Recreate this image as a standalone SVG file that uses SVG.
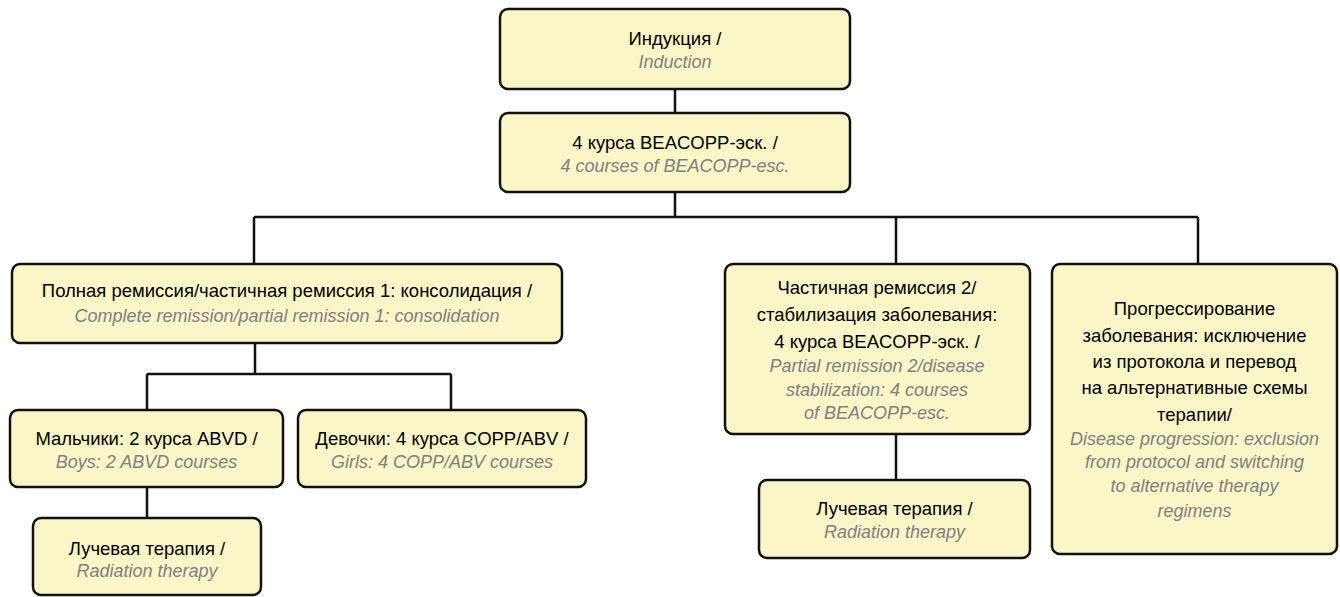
<svg xmlns="http://www.w3.org/2000/svg" width="1340" height="597" viewBox="0 0 1340 597">
<style>
.box{fill:#faf6c7;stroke:#111;stroke-width:2.5}
.ru{font-family:"Liberation Sans",Arial,sans-serif;font-size:18.5px;fill:#000;text-anchor:middle}
.en{font-family:"Liberation Sans",Arial,sans-serif;font-size:18px;font-style:italic;fill:#808080;text-anchor:middle}
.ln{stroke:#111;stroke-width:2.5;fill:none}
</style>
<rect width="1340" height="597" fill="#fff"/>
<g id="connectors">
<path class="ln" d="M675 89V113M675 192V217M254 217H1198M254 217V264M896 217V264M1198 217V264M255 343V374M147 374H451M147 374V410M451 374V410M147 487V518M896 434V480"/>
</g>
<g id="induction">
<rect class="box" x="500" y="9" width="350" height="80" rx="8"/>
<text class="ru" x="675" y="45">Индукция /</text>
<text class="en" x="675" y="68">Induction</text>
</g>
<g id="beacopp">
<rect class="box" x="500" y="113" width="350" height="79" rx="8"/>
<text class="ru" x="675" y="149">4 курса BEACOPP-эск. /</text>
<text class="en" x="675" y="172">4 courses of BEACOPP-esc.</text>
</g>
<g id="consolidation">
<rect class="box" x="12" y="264" width="550" height="79" rx="8"/>
<text class="ru" x="287" y="297">Полная ремиссия/частичная ремиссия 1: консолидация /</text>
<text class="en" x="287" y="322">Complete remission/partial remission 1: consolidation</text>
</g>
<g id="boys">
<rect class="box" x="10" y="410" width="273" height="77" rx="8"/>
<text class="ru" x="146.5" y="445">Мальчики: 2 курса ABVD /</text>
<text class="en" x="146.5" y="468">Boys: 2 ABVD courses</text>
</g>
<g id="girls">
<rect class="box" x="298" y="410" width="288" height="77" rx="8"/>
<text class="ru" x="442" y="445">Девочки: 4 курса COPP/ABV /</text>
<text class="en" x="442" y="468">Girls: 4 COPP/ABV courses</text>
</g>
<g id="radiation1">
<rect class="box" x="33" y="518" width="228" height="77" rx="8"/>
<text class="ru" x="147" y="555">Лучевая терапия /</text>
<text class="en" x="147" y="577">Radiation therapy</text>
</g>
<g id="partial2">
<rect class="box" x="725" y="264" width="305" height="170" rx="8"/>
<text class="ru" x="877" y="294">Частичная ремиссия 2/</text>
<text class="ru" x="877" y="321">стабилизация заболевания:</text>
<text class="ru" x="877" y="348">4 курса BEACOPP-эск. /</text>
<text class="en" x="877" y="372">Partial remission 2/disease</text>
<text class="en" x="877" y="396">stabilization: 4 courses</text>
<text class="en" x="877" y="419">of BEACOPP-esc.</text>
</g>
<g id="radiation2">
<rect class="box" x="759" y="480" width="271" height="78" rx="8"/>
<text class="ru" x="894.5" y="515">Лучевая терапия /</text>
<text class="en" x="894.5" y="538">Radiation therapy</text>
</g>
<g id="progression">
<rect class="box" x="1052" y="264" width="285" height="290" rx="8"/>
<text class="ru" x="1194.5" y="315">Прогрессирование</text>
<text class="ru" x="1194.5" y="342">заболевания: исключение</text>
<text class="ru" x="1194.5" y="368">из протокола и перевод</text>
<text class="ru" x="1194.5" y="394">на альтернативные схемы</text>
<text class="ru" x="1194.5" y="421">терапии/</text>
<text class="en" x="1194.5" y="445">Disease progression: exclusion</text>
<text class="en" x="1194.5" y="468">from protocol and switching</text>
<text class="en" x="1194.5" y="492">to alternative therapy</text>
<text class="en" x="1194.5" y="517">regimens</text>
</g>
</svg>
